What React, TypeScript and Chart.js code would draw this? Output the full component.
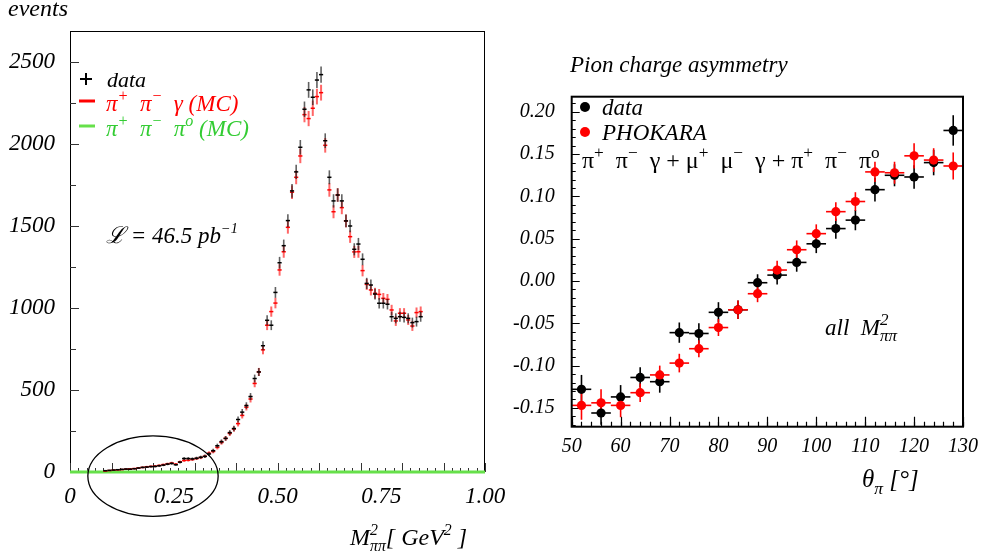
import React, { useEffect, useRef } from "react";
import { Chart, registerables } from "chart.js";
Chart.register(...registerables);

// ---------------- Left panel: M^2_pipi spectrum ----------------
const massBins = [
  0.085, 0.095, 0.105, 0.115, 0.125, 0.135, 0.145, 0.155, 0.165, 0.175,
  0.185, 0.195, 0.205, 0.215, 0.225, 0.235, 0.245, 0.255, 0.265, 0.275,
  0.285, 0.295, 0.305, 0.315, 0.325, 0.335, 0.345, 0.355, 0.365, 0.375,
  0.385, 0.395, 0.405, 0.415, 0.425, 0.435, 0.445, 0.455, 0.465, 0.475,
  0.485, 0.495, 0.505, 0.515, 0.525, 0.535, 0.545, 0.555, 0.565, 0.575,
  0.585, 0.595, 0.605, 0.615, 0.625, 0.635, 0.645, 0.655, 0.665, 0.675,
  0.685, 0.695, 0.705, 0.715, 0.725, 0.735, 0.745, 0.755, 0.765, 0.775,
  0.785, 0.795, 0.805, 0.815, 0.825, 0.835, 0.845,
];
const dataEvents = [
  8, 10, 12, 14, 16, 18, 17, 20, 24, 28,
  30, 33, 34, 38, 42, 48, 52, 44, 60, 82,
  82, 80, 84, 90, 95, 110, 130, 160, 185, 205,
  240, 265, 320, 365, 405, 460, 570, 610, 770, 925,
  895, 1095, 1276, 1380, 1533, 1714, 1830, 1980, 2212, 2330,
  2285, 2390, 2423, 2020, 1797, 1653, 1689, 1653, 1531, 1500,
  1358, 1390, 1297, 1150, 1140, 1085, 1029, 1029, 1023, 947,
  937, 947, 943, 937, 911, 917, 947,
];
const mcEvents = [
  6, 9, 11, 13, 15, 17, 19, 21, 25, 28,
  32, 34, 36, 40, 45, 50, 55, 48, 62, 70,
  72, 76, 82, 88, 96, 115, 125, 150, 180, 205,
  235, 262, 295, 345, 395, 445, 540, 610, 745, 895,
  978, 1030, 1232, 1343, 1492, 1706, 1797, 1927, 2179, 2155,
  2218, 2289, 2313, 1992, 1720, 1587, 1689, 1612, 1531, 1435,
  1342, 1343, 1228, 1144, 1110, 1090, 1083, 1059, 1053, 988,
  921, 968, 968, 927, 890, 972, 978,
];
const pi0Mass = [0, 1];
const pi0Events = [0, 0];
const massTickLabels = [0, 0.25, 0.5, 0.75, 1.0];
const eventTickLabels = [0, 500, 1000, 1500, 2000, 2500];
const massBinHalf = 0.005;
const massRange = [0, 1];
const eventRange = [0, 2689];
// circled low-mass region (centre and radii in data units)
const ellipseCentre = [0.2, -25];
const ellipseRadii = [0.157, 245];

// ---------------- Right panel: pion charge asymmetry ----------------
const thetaBins = [52, 56, 60, 64, 68, 72, 76, 80, 84, 88, 92, 96, 100, 104, 108, 112, 116, 120, 124, 128];
const asymData = [-0.128, -0.156, -0.137, -0.114, -0.119, -0.061, -0.062, -0.037, -0.034, -0.002, 0.007, 0.022, 0.044, 0.062, 0.072, 0.108, 0.125, 0.123, 0.14, 0.178];
const asymDataErr = [0.017, 0.014, 0.014, 0.012, 0.013, 0.012, 0.012, 0.012, 0.011, 0.01, 0.011, 0.011, 0.011, 0.012, 0.012, 0.014, 0.013, 0.014, 0.015, 0.018];
const asymMC = [-0.147, -0.144, -0.147, -0.132, -0.111, -0.097, -0.08, -0.055, -0.034, -0.015, 0.013, 0.037, 0.056, 0.082, 0.094, 0.129, 0.128, 0.148, 0.143, 0.136];
const asymMCErr = [0.017, 0.016, 0.014, 0.011, 0.011, 0.011, 0.01, 0.01, 0.011, 0.01, 0.011, 0.011, 0.011, 0.011, 0.011, 0.012, 0.013, 0.015, 0.014, 0.016];
const thetaTickLabels = [50, 60, 70, 80, 90, 100, 110, 120, 130];
const asymTickLabels = [-0.15, -0.1, -0.05, 0, 0.05, 0.1, 0.15, 0.2];
const thetaBinHalf = 2;
const thetaRange = [50, 130];
const asymRange = [-0.1722, 0.2179];

// ---------------- helpers ----------------
const SERIF = "'Liberation Serif', 'Times New Roman', serif";
const fnt = (size: number, italic = true) => `${italic ? "italic " : ""}${size}px ${SERIF}`;
const RED = "#ff0000";
const GREEN_TXT = "#33cc33";
const GREEN_LINE = "#66e04a";
const R_OFF = 480;

type Seg = { t: string; s?: "sup" | "sub"; hold?: boolean };
function drawRich(ctx: CanvasRenderingContext2D, x: number, y: number, segs: Seg[], size: number, color: string, italic = true, scriptScale = 0.7) {
  ctx.save();
  ctx.fillStyle = color;
  ctx.textBaseline = "alphabetic";
  ctx.textAlign = "left";
  let cx = x;
  for (const g of segs) {
    const fs = g.s ? size * scriptScale : size;
    const dy = g.s === "sup" ? -size * 0.42 : g.s === "sub" ? size * 0.26 : 0;
    ctx.font = fnt(fs, italic);
    ctx.fillText(g.t, cx, y + dy);
    if (!g.hold) cx += ctx.measureText(g.t).width;
  }
  ctx.restore();
}

function tickMarks(ctx: CanvasRenderingContext2D, scale: any, area: any, axis: "x" | "y", step: number, len: number, lo: number, hi: number) {
  const k0 = Math.ceil(lo / step - 1e-6);
  const k1 = Math.floor(hi / step + 1e-6);
  ctx.beginPath();
  for (let k = k0; k <= k1; k++) {
    const p = scale.getPixelForValue(k * step);
    if (axis === "x") {
      ctx.moveTo(Math.round(p) + 0.5, area.bottom);
      ctx.lineTo(Math.round(p) + 0.5, area.bottom - len);
    } else {
      ctx.moveTo(area.left, Math.round(p) + 0.5);
      ctx.lineTo(area.left + len, Math.round(p) + 0.5);
    }
  }
  ctx.stroke();
}

function crosses(ctx: CanvasRenderingContext2D, xs: any, ys: any, bins: number[], vals: number[], errs: number[], half: number, vCol: string, hCol: string, vW: number, hW: number) {
  for (let i = 0; i < bins.length; i++) {
    const px = xs.getPixelForValue(bins[i]);
    const py = ys.getPixelForValue(vals[i]);
    ctx.strokeStyle = vCol;
    ctx.lineWidth = vW;
    ctx.beginPath();
    ctx.moveTo(px, ys.getPixelForValue(vals[i] - errs[i]));
    ctx.lineTo(px, ys.getPixelForValue(vals[i] + errs[i]));
    ctx.stroke();
    ctx.strokeStyle = hCol;
    ctx.lineWidth = hW;
    ctx.beginPath();
    ctx.moveTo(xs.getPixelForValue(bins[i] - half), py);
    ctx.lineTo(xs.getPixelForValue(bins[i] + half), py);
    ctx.stroke();
  }
}

const leftPlugin = {
  id: "leftDecor",
  beforeDatasetsDraw(chart: any) {
    const { ctx, chartArea: a, scales } = chart;
    ctx.save();
    ctx.strokeStyle = "#000";
    ctx.lineWidth = 1;
    ctx.strokeRect(a.left + 0.5, a.top + 0.5, a.right - a.left - 1, a.bottom - a.top);
    ctx.strokeStyle = "#333";
    tickMarks(ctx, scales.x, a, "x", 0.02, 4, massRange[0], massRange[1]);
    tickMarks(ctx, scales.x, a, "x", 0.1, 9, massRange[0], massRange[1]);
    tickMarks(ctx, scales.y, a, "y", 250, 6, eventRange[0], eventRange[1]);
    tickMarks(ctx, scales.y, a, "y", 500, 9, eventRange[0], eventRange[1]);
    ctx.restore();
  },
  afterDatasetsDraw(chart: any) {
    const { ctx, scales } = chart;
    const xs = scales.x, ys = scales.y;
    ctx.save();
    const dErr = dataEvents.map((v) => Math.sqrt(v));
    const mErr = mcEvents.map((v) => Math.sqrt(v));
    crosses(ctx, xs, ys, massBins, mcEvents, mErr, massBinHalf, "rgba(255,0,0,0.6)", RED, 2, 1.5);
    crosses(ctx, xs, ys, massBins, dataEvents, dErr, massBinHalf, "rgba(30,30,30,0.7)", "#000", 1.6, 1.5);

    // ellipse around low-mass region
    const cx = xs.getPixelForValue(ellipseCentre[0]);
    const cy = ys.getPixelForValue(ellipseCentre[1]);
    const rx = Math.abs(xs.getPixelForValue(ellipseCentre[0] + ellipseRadii[0]) - cx);
    const ry = Math.abs(ys.getPixelForValue(ellipseCentre[1] + ellipseRadii[1]) - cy);
    ctx.strokeStyle = "#000";
    ctx.lineWidth = 1.3;
    ctx.beginPath();
    ctx.ellipse(cx, cy, rx, ry, 0, 0, Math.PI * 2);
    ctx.stroke();

    // legend
    ctx.strokeStyle = "#000";
    ctx.lineWidth = 2;
    ctx.beginPath();
    ctx.moveTo(80, 79); ctx.lineTo(92, 79);
    ctx.moveTo(86, 73); ctx.lineTo(86, 85);
    ctx.stroke();
    ctx.lineWidth = 3;
    ctx.strokeStyle = RED;
    ctx.beginPath(); ctx.moveTo(79, 101); ctx.lineTo(95, 101); ctx.stroke();
    ctx.strokeStyle = GREEN_LINE;
    ctx.beginPath(); ctx.moveTo(79, 126); ctx.lineTo(95, 126); ctx.stroke();
    drawRich(ctx, 107, 87, [{ t: "data" }], 22, "#000");
    drawRich(ctx, 106, 111, [{ t: "π" }, { t: "+", s: "sup" }, { t: "  π" }, { t: "−", s: "sup" }, { t: "  γ (MC)" }], 23, RED);
    drawRich(ctx, 106, 136, [{ t: "π" }, { t: "+", s: "sup" }, { t: "  π" }, { t: "−", s: "sup" }, { t: "  π" }, { t: "o", s: "sup" }, { t: " (MC)" }], 23, GREEN_TXT);

    // luminosity
    drawRich(ctx, 106, 243, [{ t: "ℒ = 46.5 pb" }, { t: "−1", s: "sup" }], 23, "#000", true, 0.62);

    // axis titles
    drawRich(ctx, 8, 16, [{ t: "events" }], 24, "#000");
    drawRich(ctx, 350, 545, [{ t: "M" }, { t: "2", s: "sup", hold: true }, { t: "ππ", s: "sub" }, { t: "[ GeV" }, { t: "2", s: "sup" }, { t: " ]" }], 24, "#000", true, 0.66);
    ctx.restore();
  },
};

const rightPlugin = {
  id: "rightDecor",
  beforeDatasetsDraw(chart: any) {
    const { ctx, chartArea: a, scales } = chart;
    ctx.save();
    ctx.strokeStyle = "#000";
    ctx.lineWidth = 1.2;
    tickMarks(ctx, scales.x, a, "x", 2, 5, thetaRange[0], thetaRange[1]);
    tickMarks(ctx, scales.x, a, "x", 10, 10, thetaRange[0], thetaRange[1]);
    tickMarks(ctx, scales.y, a, "y", 0.01, 4, asymRange[0], asymRange[1]);
    tickMarks(ctx, scales.y, a, "y", 0.05, 8, asymRange[0], asymRange[1]);
    crosses(ctx, scales.x, scales.y, thetaBins, asymData, asymDataErr, thetaBinHalf, "#000", "#000", 1.6, 1.6);
    crosses(ctx, scales.x, scales.y, thetaBins, asymMC, asymMCErr, thetaBinHalf, RED, RED, 1.6, 1.6);
    ctx.restore();
  },
  afterDatasetsDraw(chart: any) {
    const { ctx, chartArea: a } = chart;
    ctx.save();
    ctx.strokeStyle = "#000";
    ctx.lineWidth = 2;
    ctx.strokeRect(a.left, a.top, a.right - a.left, a.bottom - a.top);
    // legend
    ctx.fillStyle = "#000";
    ctx.beginPath(); ctx.arc(585 - R_OFF, 107, 5, 0, Math.PI * 2); ctx.fill();
    ctx.fillStyle = RED;
    ctx.beginPath(); ctx.arc(585 - R_OFF, 132, 5, 0, Math.PI * 2); ctx.fill();
    drawRich(ctx, 602 - R_OFF, 115, [{ t: "data" }], 23, "#000");
    drawRich(ctx, 602 - R_OFF, 140, [{ t: "PHOKARA" }], 23, "#000");
    drawRich(ctx, 582 - R_OFF, 168, [
      { t: "π" }, { t: "+", s: "sup" }, { t: "  π" }, { t: "−", s: "sup" }, { t: "  γ + μ" }, { t: "+", s: "sup" },
      { t: "  μ" }, { t: "−", s: "sup" }, { t: "  γ + π" }, { t: "+", s: "sup" }, { t: "  π" }, { t: "−", s: "sup" },
      { t: "  π" }, { t: "o", s: "sup" },
    ], 24, "#000", false, 0.72);
    drawRich(ctx, 825 - R_OFF, 335, [{ t: "all  M" }, { t: "2", s: "sup", hold: true }, { t: "ππ", s: "sub" }], 23, "#000", true, 0.74);
    drawRich(ctx, 570 - R_OFF, 72, [{ t: "Pion charge asymmetry" }], 23, "#000");
    drawRich(ctx, 862 - R_OFF, 487, [{ t: "θ" }, { t: "π", s: "sub" }, { t: " [°]" }], 25, "#000");
    ctx.restore();
  },
};

function axisCfg(range: number[], ticksArr: number[], fmt: (v: number) => string, size: number, padding: number, fit: (s: any) => void) {
  return {
    type: "linear" as const,
    min: range[0],
    max: range[1],
    afterFit: fit,
    afterBuildTicks: (s: any) => { s.ticks = ticksArr.map((v) => ({ value: v })); },
    grid: { display: false, drawTicks: false },
    border: { display: false },
    ticks: {
      padding,
      color: "#000",
      autoSkip: false,
      maxRotation: 0,
      font: { family: SERIF, style: "italic" as const, size },
      callback: (v: any) => fmt(Number(v)),
    },
  };
}

export default function App() {
  const leftRef = useRef<HTMLCanvasElement>(null);
  const rightRef = useRef<HTMLCanvasElement>(null);

  useEffect(() => {
    const left = new Chart(leftRef.current!, {
      type: "scatter",
      data: {
        datasets: [
          { label: "π+π−π0 (MC)", data: pi0Mass.map((x, i) => ({ x, y: pi0Events[i] })), showLine: true, borderColor: GREEN_LINE, borderWidth: 3, pointRadius: 0, clip: 6 } as any,
          { label: "π+π−γ (MC)", data: massBins.map((x, i) => ({ x, y: mcEvents[i] })), pointRadius: 0 },
          { label: "data", data: massBins.map((x, i) => ({ x, y: dataEvents[i] })), pointRadius: 0 },
        ],
      },
      options: {
        animation: false,
        responsive: false,
        maintainAspectRatio: false,
        layout: { padding: { left: 0, top: 31, right: 45, bottom: 0 } },
        plugins: { legend: { display: false }, tooltip: { enabled: false } },
        scales: {
          x: axisCfg(massRange, massTickLabels, (v) => (v === 0 ? "0" : v.toFixed(2)), 23, 11, (s: any) => { s.height = 86; }),
          y: axisCfg(eventRange, eventTickLabels, (v) => String(v), 23, 15, (s: any) => { s.width = 70; }),
        },
      } as any,
      plugins: [leftPlugin],
    });

    const right = new Chart(rightRef.current!, {
      type: "scatter",
      data: {
        datasets: [
          { label: "data", data: thetaBins.map((x, i) => ({ x, y: asymData[i] })), pointRadius: 4.6, pointBackgroundColor: "#000", pointBorderWidth: 0, order: 1 },
          { label: "PHOKARA", data: thetaBins.map((x, i) => ({ x, y: asymMC[i] })), pointRadius: 4.6, pointBackgroundColor: RED, pointBorderWidth: 0, order: 0 },
        ],
      },
      options: {
        animation: false,
        responsive: false,
        maintainAspectRatio: false,
        layout: { padding: { left: 0, top: 96.7, right: 20.3, bottom: 0 } },
        plugins: { legend: { display: false }, tooltip: { enabled: false } },
        scales: {
          x: axisCfg(thetaRange, thetaTickLabels, (v) => String(v), 20, 8, (s: any) => { s.height = 131.3; }),
          y: axisCfg(asymRange, asymTickLabels, (v) => v.toFixed(2), 20, 17, (s: any) => { s.width = 91.7; }),
        },
      } as any,
      plugins: [rightPlugin],
    });

    return () => {
      left.destroy();
      right.destroy();
    };
  }, []);

  return (
    <div style={{ position: "absolute", left: 0, top: 0, width: 986, height: 558, background: "#fff", overflow: "hidden" }}>
      <canvas ref={leftRef} width={530} height={558} style={{ position: "absolute", left: 0, top: 0 }} />
      <canvas ref={rightRef} width={506} height={558} style={{ position: "absolute", left: R_OFF, top: 0 }} />
    </div>
  );
}
